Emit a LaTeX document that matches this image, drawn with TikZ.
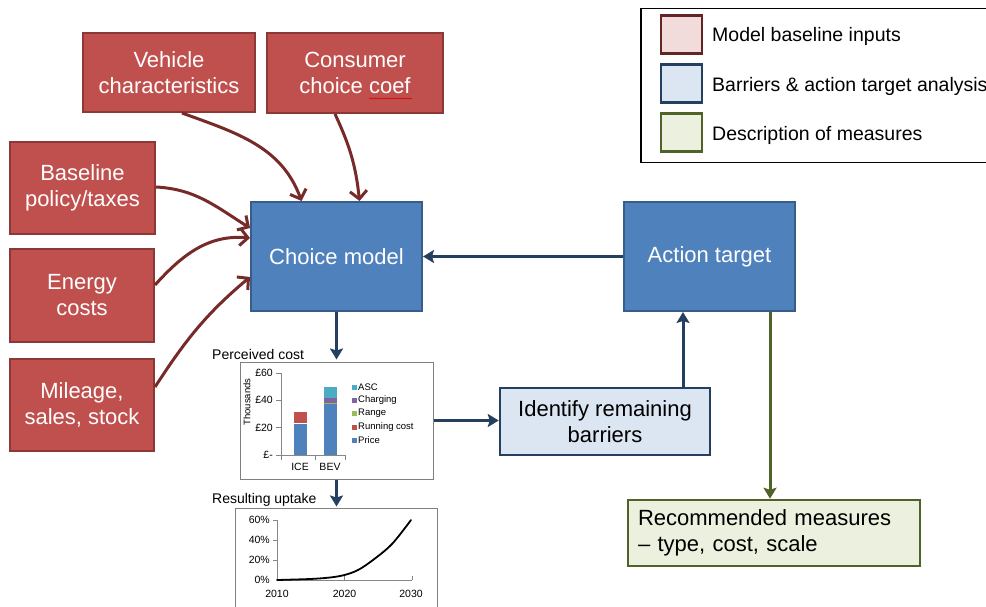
\documentclass[tikz,border=0pt]{standalone}
\usepackage{fontspec}
\setmainfont{Liberation Sans}
\usetikzlibrary{arrows.meta,decorations.pathmorphing,calc}
\definecolor{inred}{HTML}{C0504D}
\definecolor{inredborder}{HTML}{8C3836}
\definecolor{arrred}{HTML}{772B29}
\definecolor{mblue}{HTML}{4F81BD}
\definecolor{mblueborder}{HTML}{385D8A}
\definecolor{navy}{HTML}{243F60}
\definecolor{lblue}{HTML}{DCE6F2}
\definecolor{lgreen}{HTML}{EBF1DE}
\definecolor{olive}{HTML}{4F6228}
\definecolor{lpink}{HTML}{F2DCDB}
\definecolor{darkred}{HTML}{632523}
\definecolor{axisgray}{HTML}{868686}
\definecolor{framegray}{HTML}{7F7F7F}
\definecolor{cPrice}{HTML}{4F81BD}
\definecolor{cRun}{HTML}{C0504D}
\definecolor{cRange}{HTML}{9BBB59}
\definecolor{cCharge}{HTML}{8064A2}
\definecolor{cASC}{HTML}{4BACC6}
\begin{document}
\begin{tikzpicture}[x=1pt,y=-1pt,
  inbox/.style={draw=inredborder, line width=2pt, fill=inred, text=white, align=center,
    font=\fontsize{22}{26}\selectfont, inner sep=0pt},
  modelbox/.style={draw=mblueborder, line width=2pt, fill=mblue, text=white, align=center,
    font=\fontsize{22}{26}\selectfont, inner sep=0pt},
  barrbox/.style={draw=navy, line width=2.5pt, fill=lblue, text=black, align=center,
    font=\fontsize{22}{26}\selectfont, inner sep=0pt},
  measbox/.style={draw=olive, line width=2.5pt, fill=lgreen, text=black, align=left,
    font=\fontsize{22}{26}\selectfont, inner xsep=10pt, inner ysep=0pt},
  swatch/.style={line width=2.5pt, minimum width=41pt, minimum height=38pt, inner sep=0pt},
  legtext/.style={anchor=west, font=\fontsize{19.5}{22}\selectfont, inner sep=0pt},
  chartframe/.style={draw=framegray, line width=1pt, fill=white, inner sep=0pt},
  redarrow/.style={draw=arrred, line width=3pt, -{Straight Barb[length=8pt,width=17pt]}},
  bluearrow/.style={draw=navy, line width=3pt, -{Stealth[length=11pt,width=13pt,inset=2pt]}},
  greenarrow/.style={draw=olive, line width=3pt, -{Stealth[length=11pt,width=13pt,inset=2pt]}},
  tiny/.style={font=\fontsize{10.5}{12}\selectfont, inner sep=0pt},
  tinier/.style={font=\fontsize{9.5}{11}\selectfont, inner sep=0pt},
  caption/.style={font=\fontsize{14}{16}\selectfont, inner sep=0pt, anchor=west},
  axisline/.style={draw=axisgray, line width=0.8pt}
]
\useasboundingbox (0,0) rectangle (986,607);
\clip (0,0) rectangle (986,607);

% legend
\node[draw=black, line width=1.5pt, minimum width=360pt, minimum height=154pt, inner sep=0pt, anchor=north west] (legend) at (640,8) {};
\node[swatch, draw=darkred, fill=lpink] (leg1) at (681.5,34.5) {};
\node[swatch, draw=navy, fill=lblue] (leg2) at (681.5,83.5) {};
\node[swatch, draw=olive, fill=lgreen] (leg3) at (681.5,132.5) {};
\node[legtext] (legt1) at (712,36) {Model baseline inputs};
\node[legtext] (legt2) at (712,86) {Barriers \& action target analysis};
\node[legtext] (legt3) at (712,135) {Description of measures};

% input boxes
\node[inbox, minimum width=172pt, minimum height=79pt] (veh) at (169,72.5) {Vehicle\\characteristics};
\node[inbox, minimum width=176pt, minimum height=80pt] (cons) at (355,73) {Consumer\\choice coef};
\draw[red!85!black, line width=0.5pt, decorate, decoration={snake, amplitude=0.6pt, segment length=2.5pt}] (369,98.5) -- (412,98.5);
\node[inbox, minimum width=145pt, minimum height=92pt] (base) at (82.5,188) {Baseline\\policy/taxes};
\node[inbox, minimum width=144pt, minimum height=93pt] (energy) at (82,295.5) {Energy\\costs};
\node[inbox, minimum width=144pt, minimum height=92pt] (mile) at (82,405) {Mileage,\\sales, stock};

% model boxes
\node[modelbox, minimum width=171pt, minimum height=109pt] (choice) at (336.5,256.5) {Choice model};
\node[modelbox, minimum width=171pt, minimum height=109pt] (action) at (709.5,256.5) {Action target};
\node[barrbox, minimum width=210pt, minimum height=67pt] (ident) at (605,421.5) {Identify remaining\\barriers};
\node[measbox, text width=272pt, minimum height=66pt] (rec) at (774,533) {Recommended measures\\– type, cost, scale};

% red input arrows
\draw[redarrow] ([xshift=13pt]veh.south) to[out=-20, in=110] ([xshift=-35pt]choice.north);
\draw[redarrow] ([xshift=-20pt]cons.south) to[out=-65, in=96] ([xshift=23pt]choice.north);
\draw[redarrow] ([yshift=1pt]base.east) to[out=-3, in=148] ([yshift=28.5pt]choice.west);
\draw[redarrow] ([yshift=10.5pt]energy.east) to[out=48, in=175] ([yshift=18.5pt]choice.west);
\draw[redarrow] ([yshift=18pt]mile.east) to[out=57, in=220] ([yshift=-20.5pt]choice.west);

% chart 1 frame
\node[chartframe, minimum width=193pt, minimum height=117pt] (c1) at (336.5,420.5) {};
\node[caption] (c1cap) at (212,354) {Perceived cost};
% chart 2 frame
\node[chartframe, minimum width=202pt, minimum height=132pt] (c2) at (336,574) {};
\node[caption] (c2cap) at (212,500) {Resulting uptake};

% blue/green connectors
\draw[bluearrow] (action.west) -- (choice.east);
\draw[bluearrow, shorten >=2pt] (choice.south) -- (c1.north);
\draw[bluearrow] (c1.east) -- (c1.east -| ident.west);
\draw[bluearrow] ([xshift=78pt]ident.north) -- ([xshift=78pt]ident.north |- action.south);
\draw[bluearrow, shorten >=1pt] (c1.south) -- (c1.south |- c2.north);
\draw[greenarrow] ([xshift=60.5pt]action.south) -- ([xshift=60.5pt]action.south |- rec.north);

% ---- chart 1 content ----
\draw[axisline] (281,373) -- (281,455);
\foreach \yy in {373,400.3,427.7,455} \draw[axisline] (276,\yy) -- (281,\yy);
\draw[axisline] (281,455) -- (345,455);
\foreach \xx in {281,315,345} \draw[axisline] (\xx,455) -- (\xx,460);
\node[tiny, anchor=east] (t60) at (273,373) {£60};
\node[tiny, anchor=east] (t40) at (273,400.3) {£40};
\node[tiny, anchor=east] (t20) at (273,427.7) {£20};
\node[tiny, anchor=east] (t0) at (273,455) {£-};
\node[tinier, rotate=90] (thous) at (247,402) {Thousands};
% ICE bar
\fill[cPrice] (293.5,455) rectangle (306.5,423.6);
\fill[cRun] (293.5,423.6) rectangle (306.5,412);
\draw[white, line width=0.4pt] (293.5,423.6) -- (306.5,423.6);
% BEV bar
\fill[cPrice] (323.5,455) rectangle (336.5,404.4);
\fill[cRange] (323.5,404.4) rectangle (336.5,402.7);
\fill[cCharge] (323.5,402.7) rectangle (336.5,398.3);
\fill[cASC] (323.5,398.3) rectangle (336.5,386.5);
\node[tiny] (lice) at (300,467) {ICE};
\node[tiny] (lbev) at (330,467) {BEV};
% chart 1 legend
\fill[cASC] (352,384.5) rectangle (357,389.5);
\fill[cCharge] (352,397.5) rectangle (357,402.5);
\fill[cRange] (352,410.5) rectangle (357,415.5);
\fill[cRun] (352,424.5) rectangle (357,429.5);
\fill[cPrice] (352,437.5) rectangle (357,442.5);
\node[tinier, anchor=west] (lasc) at (358,387) {ASC};
\node[tinier, anchor=west] (lch) at (358,400) {Charging};
\node[tinier, anchor=west] (lra) at (358,413) {Range};
\node[tinier, anchor=west] (lrc) at (358,427) {Running cost};
\node[tinier, anchor=west] (lpr) at (358,440) {Price};

% ---- chart 2 content ----
\draw[axisline] (277,520) -- (277,580) -- (412,580);
\foreach \yy in {520,540,560} \draw[axisline] (273,\yy) -- (277,\yy);
\draw[axisline] (412,580) -- (412,576);
\draw[axisline] (344.5,580) -- (344.5,576);
\node[tiny, anchor=east] (p60) at (270,520) {60\%};
\node[tiny, anchor=east] (p40) at (270,540) {40\%};
\node[tiny, anchor=east] (p20) at (270,560) {20\%};
\node[tiny, anchor=east] (p0) at (270,580) {0\%};
\node[tiny] (y2010) at (277,594) {2010};
\node[tiny] (y2020) at (344.5,594) {2020};
\node[tiny] (y2030) at (411,594) {2030};
\draw[black, line width=1.8pt, line cap=round] plot[smooth, tension=0.55] coordinates {
  (277,580) (310,579) (330,577.5) (344.5,575) (358,570) (373,560) (392,544) (411,520)};
\end{tikzpicture}
\end{document}
